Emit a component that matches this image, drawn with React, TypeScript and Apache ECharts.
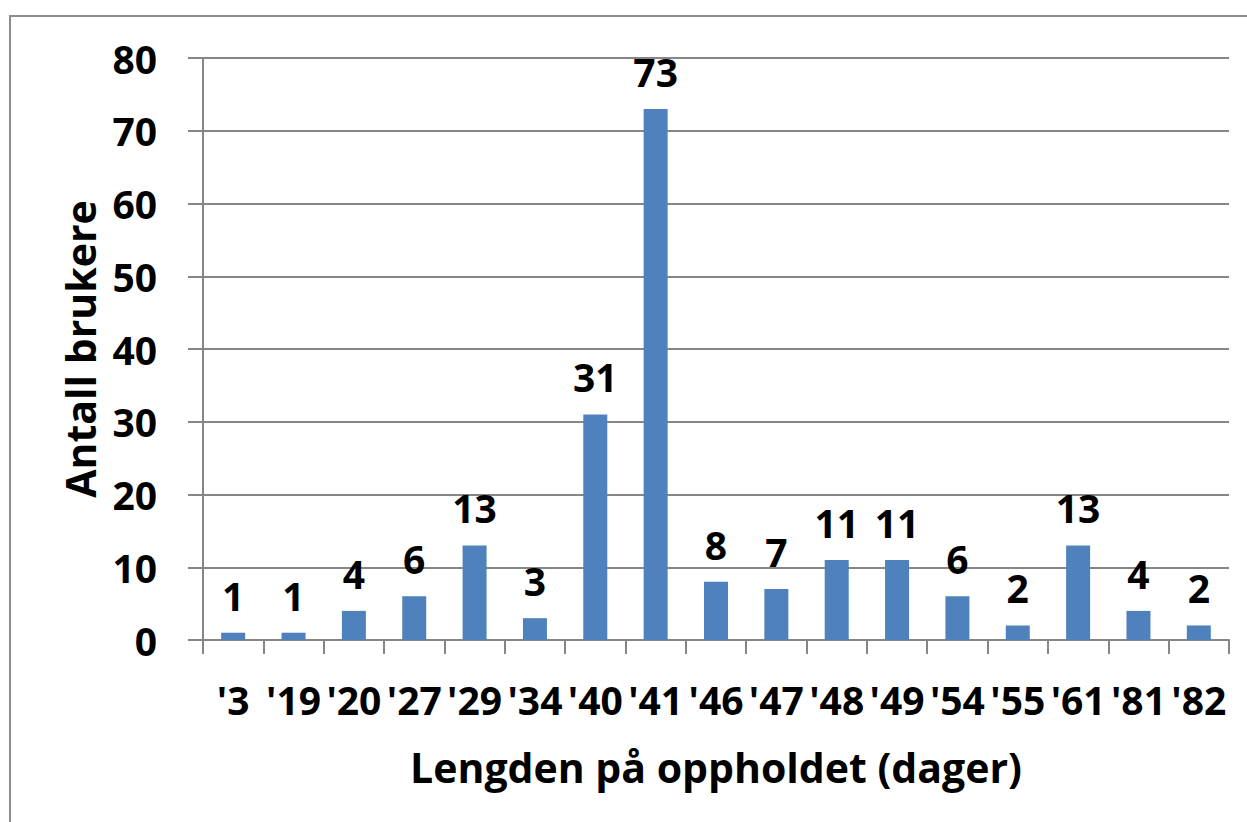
import React, { useEffect, useRef } from "react";
import * as echarts from "echarts";

const categories = ["'3", "'19", "'20", "'27", "'29", "'34", "'40", "'41", "'46", "'47", "'48", "'49", "'54", "'55", "'61", "'81", "'82"];
const counts = [1, 1, 4, 6, 13, 3, 31, 73, 8, 7, 11, 11, 6, 2, 13, 4, 2];
const yTitle = "Antall brukere";
const xTitle = "Lengden på oppholdet (dager)";

const FONT = "Open Sans";

export default function App() {
  const ref = useRef<HTMLDivElement>(null);
  useEffect(() => {
    const chart = echarts.init(ref.current!, null, { renderer: "svg" });
    chart.setOption({
      animation: false,
      backgroundColor: "#ffffff",
      textStyle: { fontFamily: FONT },
      graphic: [
        {
          type: "rect",
          shape: { x: 10, y: 16, width: 1300, height: 900 },
          style: { fill: "none", stroke: "#8c8c8c", lineWidth: 2 },
          silent: true,
        },
      ],
      grid: { left: 203, right: 18, top: 58, bottom: 182 },
      xAxis: {
        type: "category",
        data: categories,
        axisLine: { lineStyle: { color: "#868686", width: 2 } },
        axisTick: { show: true, length: 14, lineStyle: { color: "#868686", width: 2 } },
        axisLabel: { color: "#000", fontFamily: FONT, fontWeight: "bold", fontSize: 39, margin: 40, interval: 0 },
        name: xTitle,
        nameLocation: "middle",
        nameGap: 106,
        nameTextStyle: { color: "#000", fontFamily: FONT, fontWeight: "bold", fontSize: 41 },
      },
      yAxis: {
        type: "value",
        min: 0,
        max: 80,
        interval: 10,
        axisLine: { show: true, lineStyle: { color: "#868686", width: 2 } },
        axisTick: { show: true, length: 15, lineStyle: { color: "#868686", width: 2 } },
        splitLine: { lineStyle: { color: "#868686", width: 2 } },
        axisLabel: { color: "#000", fontFamily: FONT, fontWeight: "bold", fontSize: 39, margin: 46 },
        name: yTitle,
        nameLocation: "middle",
        nameGap: 103,
        nameRotate: 90,
        nameTextStyle: { color: "#000", fontFamily: FONT, fontWeight: "bold", fontSize: 41 },
      },
      series: [
        {
          type: "bar",
          data: counts,
          barWidth: 24,
          itemStyle: { color: "#4F81BD" },
          label: {
            show: true,
            position: "top",
            distance: 18,
            color: "#000",
            fontFamily: FONT,
            fontWeight: "bold",
            fontSize: 39,
          },
        },
      ],
    });
    return () => chart.dispose();
  }, []);
  return <div ref={ref} style={{ position: "fixed", left: 0, top: 0, width: 1247, height: 822 }} />;
}
